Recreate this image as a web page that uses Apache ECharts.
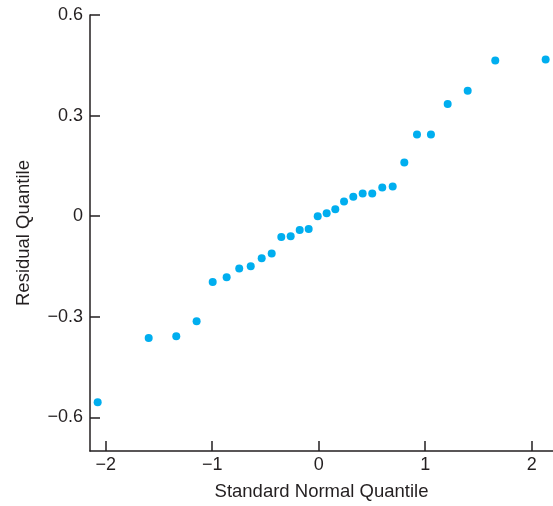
<!DOCTYPE html>
<html>
<head>
<meta charset="utf-8">
<script src="https://cdn.jsdelivr.net/npm/echarts@6/dist/echarts.min.js"></script>
<style>html,body{margin:0;padding:0;background:#fff;}#c{width:553px;height:506px;}</style>
</head>
<body>
<div id="c"></div>
<script>
// Standard normal quantiles (x) and residual quantiles (y)
const normalQuantiles = [-2.075, -1.596, -1.337, -1.146, -0.995, -0.864, -0.746, -0.638, -0.535, -0.441,
  -0.351, -0.263, -0.178, -0.094, -0.009, 0.075, 0.156, 0.238, 0.325, 0.413,
  0.503, 0.597, 0.695, 0.804, 0.923, 1.054, 1.211, 1.399, 1.658, 2.131];
const residualQuantiles = [-0.555, -0.363, -0.358, -0.313, -0.196, -0.182, -0.156, -0.149, -0.125, -0.111,
  -0.062, -0.060, -0.041, -0.038, 0.000, 0.009, 0.021, 0.044, 0.058, 0.068,
  0.068, 0.086, 0.089, 0.160, 0.244, 0.244, 0.335, 0.374, 0.464, 0.467];
const xTicks = [-2, -1, 0, 1, 2];
const yTicks = [-0.6, -0.3, 0, 0.3, 0.6];
const xTitle = 'Standard Normal Quantile';
const yTitle = 'Residual Quantile';

const ink = '#231f20';
const font = 'Liberation Sans, Arial, Helvetica, sans-serif';
const fmt = v => {
  const s = (Math.abs(v) < 1e-9) ? '0' : String(Math.round(v * 10) / 10);
  return s.replace('-', '\u2212');
};

const chart = echarts.init(document.getElementById('c'), null, {renderer: 'canvas'});
chart.setOption({
  animation: false,
  grid: {left: 90, right: 0, top: 15, bottom: 51, containLabel: false},
  xAxis: {
    type: 'value', min: -2.147, max: 2.2,
    name: xTitle, nameLocation: 'middle', nameGap: 31,
    nameTextStyle: {color: ink, fontFamily: font, fontSize: 18.5},
    axisLine: {show: true, onZero: false, lineStyle: {color: ink, width: 1.5}},
    axisTick: {show: true, inside: true, length: 10, customValues: xTicks, lineStyle: {color: ink, width: 1.5}},
    axisLabel: {customValues: xTicks, formatter: fmt, color: ink, fontFamily: font, fontSize: 18, margin: 5},
    splitLine: {show: false}
  },
  yAxis: {
    type: 'value', min: -0.7, max: 0.6,
    name: yTitle, nameLocation: 'middle', nameGap: 57, nameRotate: 90,
    nameTextStyle: {color: ink, fontFamily: font, fontSize: 18.5},
    axisLine: {show: true, onZero: false, lineStyle: {color: ink, width: 1.5}},
    axisTick: {show: true, inside: true, length: 10, customValues: yTicks, lineStyle: {color: ink, width: 1.5}},
    axisLabel: {customValues: yTicks, formatter: fmt, color: ink, fontFamily: font, fontSize: 18, margin: 7},
    splitLine: {show: false}
  },
  series: [{
    type: 'scatter',
    data: normalQuantiles.map((x, i) => [x, residualQuantiles[i]]),
    symbol: 'circle', symbolSize: 8,
    itemStyle: {color: '#00aeef', opacity: 1}
  }]
});
</script>
</body>
</html>
